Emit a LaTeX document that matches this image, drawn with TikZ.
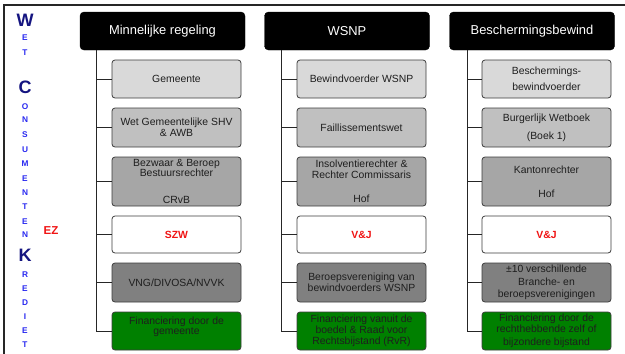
\documentclass[tikz,border=0pt]{standalone}
\usepackage{fontspec}
\setmainfont{Liberation Sans}
\definecolor{navyW}{RGB}{20,20,128}
\definecolor{blueL}{RGB}{40,40,240}
\definecolor{redT}{RGB}{240,20,20}
\definecolor{greenB}{RGB}{0,128,0}
\definecolor{edgeC}{RGB}{60,60,60}
\definecolor{textC}{RGB}{30,30,30}
\begin{document}
\begin{tikzpicture}[x=1pt,y=-1pt,
  hdr/.style={draw=black, fill=black, rounded corners=4pt, text=white,
    font=\fontsize{12.9}{14}\selectfont, minimum width=165pt, minimum height=38pt, inner sep=0pt},
  cbox/.style={draw=edgeC, line width=0.8pt, rounded corners=3pt, minimum width=129pt,
    inner sep=0pt, align=center, text=textC, font=\fontsize{10.4}{11}\selectfont},
  rA/.style={cbox, fill={rgb,255:red,217;green,217;blue,217}, minimum height=38pt},
  rB/.style={cbox, fill={rgb,255:red,192;green,192;blue,192}, minimum height=39pt},
  rC/.style={cbox, fill={rgb,255:red,166;green,166;blue,166}, minimum height=49pt},
  rD/.style={cbox, fill=white, minimum height=37pt, text=redT, font=\fontsize{10.4}{11}\selectfont\bfseries},
  rE/.style={cbox, fill={rgb,255:red,128;green,128;blue,128}, minimum height=39pt},
  rF/.style={cbox, fill=greenB, minimum height=38pt},
  conn/.style={draw=black!85, line width=0.9pt},
  bigL/.style={text=navyW, font=\fontsize{18}{18}\selectfont\bfseries, inner sep=0pt},
  smallL/.style={text=blueL, font=\fontsize{8.3}{9}\selectfont\bfseries, inner sep=0pt}
]
\useasboundingbox (0,0) rectangle (625,354);
% frame
\draw[line width=2pt, black!85] (4,354) -- (4,5) -- (625,5);

% headers
\node[hdr] (h1) at (162.5,31) {Minnelijke regeling};
\node[hdr] (h2) at (347,31) {WSNP};
\node[hdr] (h3) at (532,31) {Beschermingsbewind};

% column 1
\node[rA] (a1) at (176.5,79) {Gemeente};
\node[rB] (a2) at (176.5,127.5) {Wet Gemeentelijke SHV\\\& AWB};
\node[rC] (a3) at (176.5,181.5) {Bezwaar \& Beroep\\[-0.6pt]Bestuursrechter\\[16pt]CRvB};
\node[rD] (a4) at (176.5,234.5) {SZW};
\node[rE] (a5) at (176.5,282.5) {VNG/DIVOSA/NVVK};
\node[rF] (a6) at (176.5,331) {Financiering door de\\[-1pt]gemeente\\~};

% column 2
\node[rA] (b1) at (361.5,79) {Bewindvoerder WSNP};
\node[rB] (b2) at (361.5,127.5) {Faillissementswet};
\node[rC] (b3) at (361.5,181.5) {Insolventierechter \&\\Rechter Commissaris\\[13pt]Hof};
\node[rD] (b4) at (361.5,234.5) {V\&J};
\node[rE] (b5) at (361.5,282.5) {Beroepsvereniging van\\[-0.5pt]bewindvoerders WSNP};
\node[rF] (b6) at (361.5,331) {Financiering vanuit de\\boedel \& Raad voor\\Rechtsbijstand (RvR)};

% column 3
\node[rA] (c1) at (546.5,79) {Beschermings-\\[5pt]bewindvoerder};
\node[rB] (c2) at (546.5,127.5) {Burgerlijk Wetboek\\[7pt](Boek 1)};
\node[rC] (c3) at (546.5,181.5) {Kantonrechter\\[13pt]Hof};
\node[rD] (c4) at (546.5,234.5) {V\&J};
\node[rE] (c5) at (546.5,282.5) {±10 verschillende\\[1.5pt]Branche- en\\[1.5pt]beroepsverenigingen};
\node[rF] (c6) at (546.5,331) {Financiering door de\\rechthebbende zelf of\\[2pt]bijzondere bijstand};

% connectors
\coordinate (s1) at (96,50);
\coordinate (s2) at (281,50);
\coordinate (s3) at (467,50);
\foreach \k in {1,...,6} {
  \draw[conn] (s1) |- (a\k.west);
  \draw[conn] (s2) |- (b\k.west);
  \draw[conn] (s3) |- (c\k.west);
}

% vertical title letters
\node[bigL] (lW) at (25,20) {W};
\node[smallL] (l1) at (25,38) {E};
\node[smallL] (l2) at (25,53) {T};
\node[bigL] (lC) at (25,87) {C};
\node[smallL] (l3) at (25,107) {O};
\node[smallL] (l4) at (25,120) {N};
\node[smallL] (l5) at (25,135) {S};
\node[smallL] (l6) at (25,150) {U};
\node[smallL] (l7) at (25,164) {M};
\node[smallL] (l8) at (25,179) {E};
\node[smallL] (l9) at (25,193) {N};
\node[smallL] (l10) at (25,207) {T};
\node[smallL] (l11) at (25,222) {E};
\node[smallL] (l12) at (25,235) {N};
\node[bigL] (lK) at (25,255) {K};
\node[smallL] (l13) at (25,275) {R};
\node[smallL] (l14) at (25,289) {E};
\node[smallL] (l15) at (25,303) {D};
\node[smallL] (l16) at (25,317) {I};
\node[smallL] (l17) at (25,331) {E};
\node[smallL] (l18) at (25,345) {T};

\node[text=redT, font=\fontsize{11.5}{12}\selectfont\bfseries, inner sep=0pt] (ez) at (51,231) {EZ};
\end{tikzpicture}
\end{document}
